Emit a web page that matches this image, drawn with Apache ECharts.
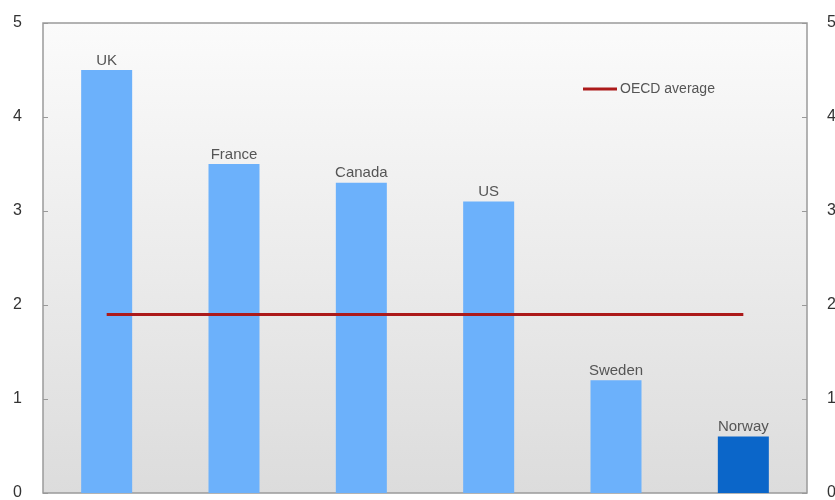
<!DOCTYPE html>
<html>
<head>
<meta charset="utf-8">
<script src="https://cdn.jsdelivr.net/npm/echarts@6/dist/echarts.min.js"></script>
<style>html,body{margin:0;padding:0;background:#fff}#c{width:835px;height:500px}</style>
</head>
<body>
<div id="c"></div>
<script>
var categories = ['UK', 'France', 'Canada', 'US', 'Sweden', 'Norway'];
var barValues = [4.5, 3.5, 3.3, 3.1, 1.2, 0.6];
var oecdAverage = [1.9, 1.9, 1.9, 1.9, 1.9, 1.9];
var yTicks = [0, 1, 2, 3, 4, 5];

var chart = echarts.init(document.getElementById('c'));
var lightBlue = '#6cb1fb';
var darkBlue = '#0b66c9';
chart.setOption({
  animation: false,
  grid: {
    left: 43, right: 28, top: 23, bottom: 7,
    outerBoundsMode: 'none',
    containLabel: false,
    show: true,
    borderColor: '#9a9a9a', borderWidth: 1.5,
    backgroundColor: new echarts.graphic.LinearGradient(0, 0, 0, 1, [
      {offset: 0, color: '#fbfbfb'},
      {offset: 1, color: '#dcdcdc'}
    ])
  },
  legend: {
    left: 578, top: 77,
    data: [{name: 'OECD average', icon: 'rect'}],
    itemWidth: 34, itemHeight: 3, itemGap: 0,
    textStyle: {color: '#555', fontSize: 14, fontFamily: 'Liberation Sans', padding: [0,0,0,-2]}
  },
  xAxis: {
    type: 'category', data: categories,
    axisLine: {show: false}, axisTick: {show: false}, axisLabel: {show: false}
  },
  yAxis: [
    {
      type: 'value', min: yTicks[0], max: yTicks[yTicks.length-1], interval: 1, position: 'left',
      axisLine: {show: false}, splitLine: {show: false},
      axisTick: {show: true, inside: true, length: 5, lineStyle: {color: '#999'}},
      axisLabel: {color: '#333', fontSize: 16, margin: 21, fontFamily: 'Liberation Sans'}
    },
    {
      type: 'value', min: yTicks[0], max: yTicks[yTicks.length-1], interval: 1, position: 'right',
      axisLine: {show: false}, splitLine: {show: false},
      axisTick: {show: true, inside: true, length: 5, lineStyle: {color: '#999'}},
      axisLabel: {color: '#333', fontSize: 16, margin: 20, fontFamily: 'Liberation Sans'}
    }
  ],
  series: [
    {
      name: 'Countries', type: 'bar', barWidth: 51,
      data: barValues.map(function (v, i) {
        return {value: v, itemStyle: {color: categories[i] === 'Norway' ? darkBlue : lightBlue}};
      }),
      label: {show: true, position: 'top', distance: 2, formatter: '{b}', color: '#555', fontSize: 15, fontFamily: 'Liberation Sans'}
    },
    {
      name: 'OECD average', type: 'line', data: oecdAverage,
      symbol: 'none', color: '#ac1a1a',
      lineStyle: {color: '#ac1a1a', width: 3}
    }
  ]
});
</script>
</body>
</html>
